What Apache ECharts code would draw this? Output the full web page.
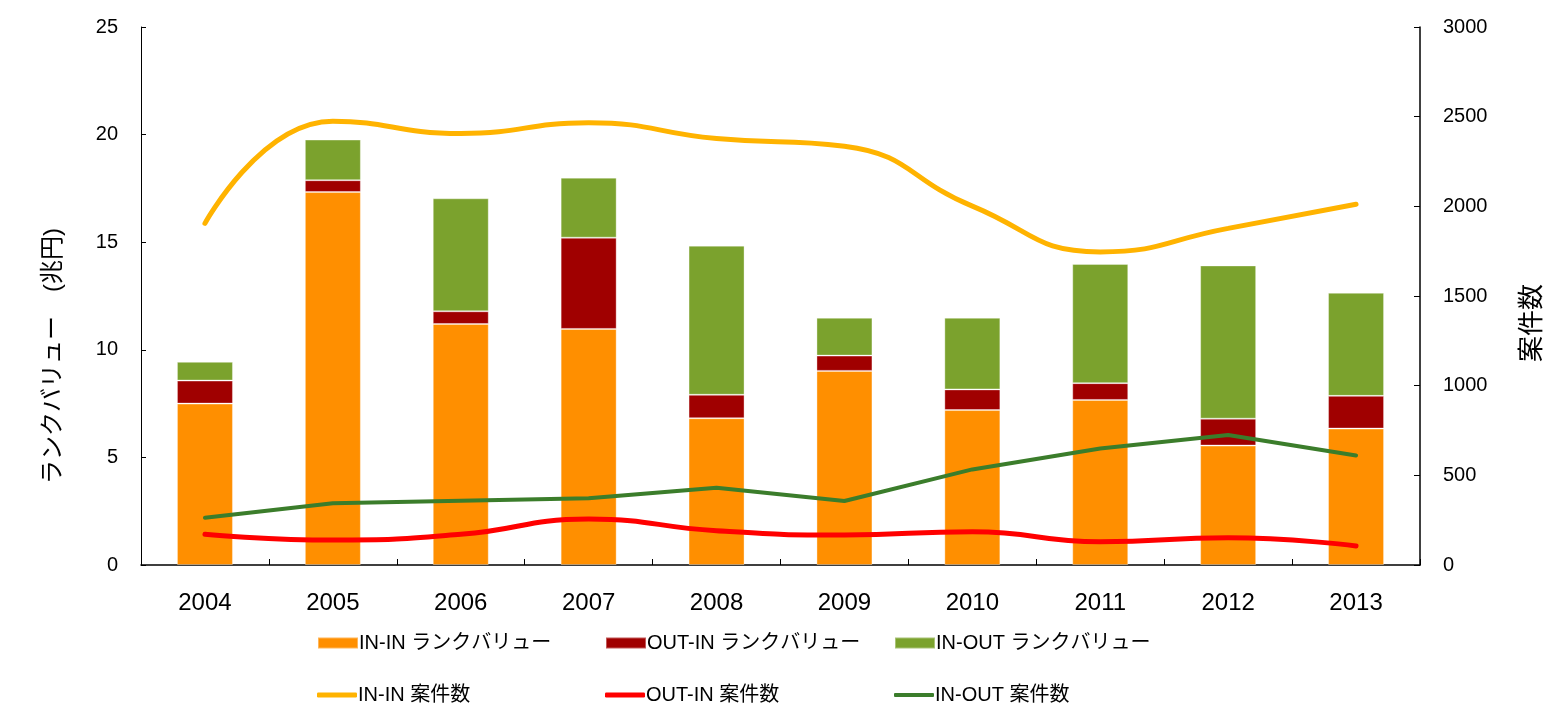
<!DOCTYPE html>
<html>
<head>
<meta charset="utf-8">
<script src="https://cdn.jsdelivr.net/npm/echarts@6/dist/echarts.min.js"></script>
<style>
  html, body { margin: 0; padding: 0; background: #fff; }
  #main { width: 1564px; height: 704px; }
</style>
</head>
<body>
<div id="main"></div>
<script>
// 年度
var years = ['2004', '2005', '2006', '2007', '2008', '2009', '2010', '2011', '2012', '2013'];

// ランクバリュー (兆円)
var inInValue = [7.5, 17.33, 11.2, 10.97, 6.82, 9.02, 7.2, 7.67, 5.55, 6.34];
var outInValue = [1.07, 0.55, 0.59, 4.24, 1.09, 0.71, 0.96, 0.78, 1.25, 1.52];
var inOutValue = [0.87, 1.89, 5.25, 2.79, 6.93, 1.76, 3.33, 5.54, 7.12, 4.79];

// 案件数
var inInCount = [1905, 2475, 2406, 2466, 2378, 2335, 2001, 1746, 1877, 2012];
var outInCount = [171, 139, 171, 256, 191, 167, 186, 130, 152, 106];
var inOutCount = [264, 344, 358, 372, 431, 357, 533, 650, 725, 611];

var leftTicks = [0, 25, 5];
var rightTicks = [0, 3000, 500];

var FONT = '"Liberation Sans", "Noto Sans CJK JP", sans-serif';

var chart = echarts.init(document.getElementById('main'), null, { renderer: 'canvas' });

function legendItem(name, left, top, icon, h) {
  return {
    data: [name],
    left: left,
    top: top,
    icon: icon,
    itemWidth: 40,
    itemHeight: h,
    itemGap: 0,
    selectedMode: false,
    textStyle: { fontFamily: FONT, fontSize: 20, color: '#000', padding: [0, 0, 0, -4] }
  };
}

var option = {
  animation: false,
  backgroundColor: '#fff',
  grid: { left: 141, right: 144, top: 27, bottom: 139 },
  legend: [
    legendItem('IN-IN ランクバリュー', 312, 628, 'rect', 11),
    legendItem('OUT-IN ランクバリュー', 600, 628, 'rect', 11),
    legendItem('IN-OUT ランクバリュー', 889, 628, 'rect', 11),
    legendItem('IN-IN 案件数', 312, 680, 'roundRect', 5),
    legendItem('OUT-IN 案件数', 600, 680, 'roundRect', 5),
    legendItem('IN-OUT 案件数', 889, 680, 'roundRect', 4)
  ],
  xAxis: {
    type: 'category',
    data: years,
    boundaryGap: true,
    axisLine: { lineStyle: { color: '#000', width: 1.5 } },
    axisTick: { show: true, inside: true, length: 6, interval: 0, lineStyle: { color: '#000' } },
    axisLabel: { fontFamily: FONT, fontSize: 24, color: '#000', margin: 26 }
  },
  yAxis: [
    {
      type: 'value',
      min: leftTicks[0], max: leftTicks[1], interval: leftTicks[2],
      name: 'ランクバリュー　(兆円)',
      nameLocation: 'middle',
      nameRotate: 90,
      nameGap: 76,
      nameTextStyle: { fontFamily: FONT, fontSize: 24, color: '#000', padding: [0, 120, 0, 0] },
      axisLine: { show: true, lineStyle: { color: '#000', width: 1 } },
      axisTick: { show: true, inside: true, length: 5, lineStyle: { color: '#000' } },
      axisLabel: { fontFamily: FONT, fontSize: 20, color: '#000', margin: 23 },
      splitLine: { show: false }
    },
    {
      type: 'value',
      min: rightTicks[0], max: rightTicks[1], interval: rightTicks[2],
      name: '案件数',
      nameLocation: 'middle',
      nameRotate: 90,
      nameGap: 100,
      nameTextStyle: { fontFamily: FONT, fontSize: 26, color: '#000', padding: [0, 54, 0, 0] },
      axisLine: { show: true, lineStyle: { color: '#000', width: 1.5 } },
      axisTick: { show: true, inside: true, length: 6, lineStyle: { color: '#000' } },
      axisLabel: {
        fontFamily: FONT, fontSize: 20, color: '#000', margin: 23,
        formatter: function (v) { return String(v); }
      },
      splitLine: { show: false }
    }
  ],
  series: [
    {
      name: 'IN-IN ランクバリュー', type: 'bar', stack: 'v', yAxisIndex: 0,
      data: inInValue, barWidth: 56,
      itemStyle: { color: '#FF8F00', borderColor: 'rgba(255,255,255,0.35)', borderWidth: 1 }
    },
    {
      name: 'OUT-IN ランクバリュー', type: 'bar', stack: 'v', yAxisIndex: 0,
      data: outInValue, barWidth: 56,
      itemStyle: { color: '#A00000', borderColor: 'rgba(255,255,255,0.35)', borderWidth: 1 }
    },
    {
      name: 'IN-OUT ランクバリュー', type: 'bar', stack: 'v', yAxisIndex: 0,
      data: inOutValue, barWidth: 56,
      itemStyle: { color: '#7BA22D', borderColor: 'rgba(255,255,255,0.35)', borderWidth: 1 }
    },
    {
      name: 'IN-IN 案件数', type: 'line', yAxisIndex: 1,
      data: inInCount, smooth: 0.5, symbol: 'none',
      lineStyle: { color: '#FFB300', width: 5, cap: 'round' },
      itemStyle: { color: '#FFB300' }
    },
    {
      name: 'OUT-IN 案件数', type: 'line', yAxisIndex: 1,
      data: outInCount, smooth: 0.5, symbol: 'none',
      lineStyle: { color: '#FF0000', width: 5, cap: 'round' },
      itemStyle: { color: '#FF0000' }
    },
    {
      name: 'IN-OUT 案件数', type: 'line', yAxisIndex: 1,
      data: inOutCount, symbol: 'none',
      lineStyle: { color: '#3B7D2B', width: 4, cap: 'round' },
      itemStyle: { color: '#3B7D2B' }
    }
  ]
};

chart.setOption(option);
</script>
</body>
</html>
